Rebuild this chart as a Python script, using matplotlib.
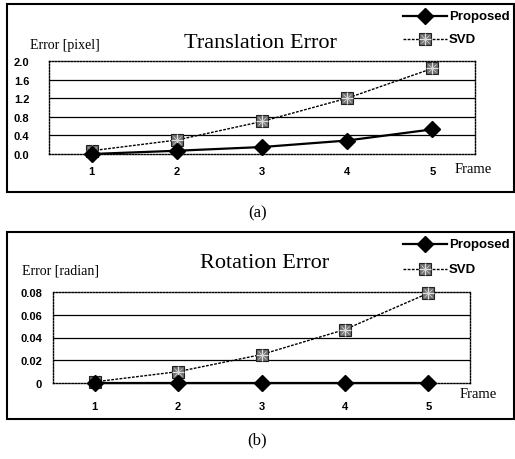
import matplotlib
matplotlib.use('Agg')
import matplotlib.pyplot as plt
from matplotlib.patches import Rectangle

frames = [1, 2, 3, 4, 5]
trans_proposed = [0.0, 0.07, 0.15, 0.29, 0.53]
trans_svd = [0.07, 0.30, 0.70, 1.20, 1.84]
rot_proposed = [0.0, 0.0, 0.0, 0.0, 0.0]
rot_svd = [0.001, 0.010, 0.025, 0.047, 0.079]
trans_ticks = [0.0, 0.4, 0.8, 1.2, 1.6, 2.0]
trans_ticklabels = ['0.0', '0.4', '0.8', '1.2', '1.6', '2.0']
rot_ticks = [0, 0.02, 0.04, 0.06, 0.08]
rot_ticklabels = ['0', '0.02', '0.04', '0.06', '0.08']

W, H = 515, 460
fig = plt.figure(figsize=(W / 100, H / 100), dpi=100)

serif = 'Liberation Serif'
sans = 'Liberation Sans'
svd_face = '#6e6e6e'


def fx(x):
    return x / W


def fy(y):
    return 1 - y / H


def svd_marker(target, xs, ys, **kw):
    # checkered square: grey square with light cross hatch on top
    a = plt.Line2D(xs, ys, linestyle='none', marker='s', markersize=9,
                   markerfacecolor=svd_face, markeredgecolor='#202020',
                   markeredgewidth=0.8, zorder=4, clip_on=False, **kw)
    b = plt.Line2D(xs, ys, linestyle='none', marker='+', markersize=8,
                   markeredgecolor='#e0e0e0', markeredgewidth=0.9, zorder=4.5,
                   clip_on=False, **kw)
    c = plt.Line2D(xs, ys, linestyle='none', marker='x', markersize=6,
                   markeredgecolor='#d0d0d0', markeredgewidth=0.6, zorder=4.6,
                   clip_on=False, **kw)
    for art in (a, b, c):
        target.add_artist(art)


def panel(box, axbox, prop, svd, ticks, ticklabels, ypad, xpad, ylab, ylab_xy,
          title, title_xy, leg_y, frame_xy, cap, cap_y):
    # outer frame of the panel
    x0, y0, x1, y1 = box
    fig.patches.append(Rectangle((fx(x0), fy(y1)), fx(x1 - x0), (y1 - y0) / H,
                                 transform=fig.transFigure, fill=False,
                                 edgecolor='black', linewidth=1.5))
    l, t, r, b = axbox
    ax = fig.add_axes([fx(l), fy(b), fx(r - l), (b - t) / H])
    ax.set_xlim(0.5, 5.5)
    ax.set_ylim(ticks[0], ticks[-1])
    for s in ax.spines.values():
        s.set_linestyle((0, (1, 1.2)))
        s.set_linewidth(1.0)
    for v in ticks[1:-1]:
        ax.axhline(v, color='black', linewidth=0.9, zorder=1)
    ax.set_yticks(ticks)
    ax.set_yticklabels(ticklabels, fontfamily=sans, fontweight='bold', fontsize=8)
    ax.set_xticks(frames)
    ax.set_xticklabels([str(f) for f in frames], fontfamily=sans,
                       fontweight='bold', fontsize=8)
    ax.tick_params(axis='y', length=0, pad=ypad)
    ax.tick_params(axis='x', length=0, pad=xpad)

    ax.plot(frames, svd, color='black', linestyle=(0, (2, 1)), linewidth=1.0,
            zorder=3, clip_on=False)
    svd_marker(ax, frames, svd, transform=ax.transData)
    ax.plot(frames, prop, color='black', linewidth=1.6, marker='D',
            markersize=8, markerfacecolor='black', markeredgecolor='black',
            zorder=5, clip_on=False)

    fig.text(fx(ylab_xy[0]), fy(ylab_xy[1]), ylab, family=serif, fontsize=10,
             ha='left', va='center')
    fig.text(fx(title_xy[0]), fy(title_xy[1]), title, family=serif, fontsize=16,
             ha='center', va='center')
    fig.text(fx(frame_xy[0]), fy(frame_xy[1]), 'Frame', family=serif, fontsize=10.5,
             ha='left', va='center')
    fig.text(0.5, fy(cap_y), cap, family=serif, fontsize=12, ha='center', va='center')

    # legend drawn by hand
    lx0, lx1 = 403, 447
    mid = fx((lx0 + lx1) / 2)
    fig.add_artist(plt.Line2D([fx(lx0), fx(lx1)], [fy(leg_y[0])] * 2,
                              transform=fig.transFigure, color='black', linewidth=1.6))
    fig.add_artist(plt.Line2D([mid], [fy(leg_y[0])], transform=fig.transFigure,
                              marker='D', markersize=8, color='black'))
    fig.add_artist(plt.Line2D([fx(lx0), fx(lx1)], [fy(leg_y[1])] * 2,
                              transform=fig.transFigure, color='black',
                              linestyle=(0, (2, 1)), linewidth=1.0))
    svd_marker(fig, [mid], [fy(leg_y[1])], transform=fig.transFigure)
    fig.text(fx(449), fy(leg_y[0]), 'Proposed', family=sans, fontweight='bold',
             fontsize=9.5, ha='left', va='center')
    fig.text(fx(449), fy(leg_y[1]), 'SVD', family=sans, fontweight='bold',
             fontsize=9.5, ha='left', va='center')
    return ax


panel((7, 5, 514, 193), (49, 62, 475, 155), trans_proposed, trans_svd,
      trans_ticks, trans_ticklabels, 14, 9, 'Error [pixel]', (30, 45),
      'Translation Error', (260, 43), (17, 40), (455, 170), '(a)', 213)

panel((7, 233, 514, 420), (53, 293, 470, 384), rot_proposed, rot_svd,
      rot_ticks, rot_ticklabels, 8, 13, 'Error [radian]', (22, 271),
      'Rotation Error', (265, 263), (245, 270), (460, 395), '(b)', 440)

fig.savefig('out.png', dpi=100)
